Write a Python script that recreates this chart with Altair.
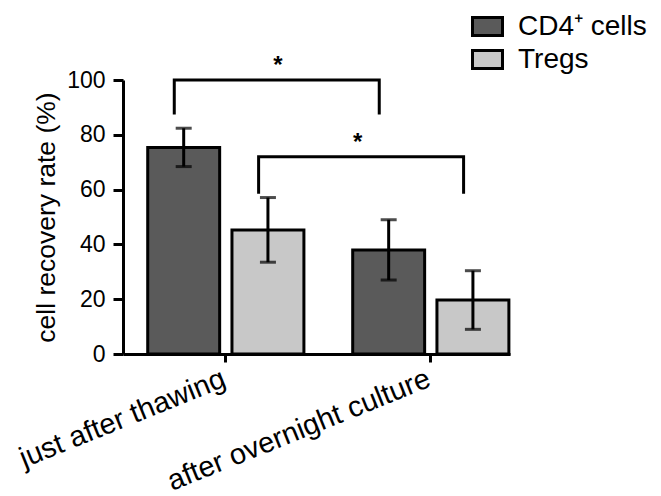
import altair as alt
import pandas as pd

FONT = "Liberation Sans"

conditions = ["just after thawing", "after overnight culture"]
cell_types = ["CD4\u207a cells", "Tregs"]
cd4_mean = [75.4, 38.0]
cd4_err = [7.0, 11.0]
treg_mean = [45.3, 19.7]
treg_err = [11.8, 10.7]
colors = ["#5a5a5a", "#c8c8c8"]

# significance brackets (same cell type, compared across conditions)
bracket_cell = ["CD4\u207a cells", "Tregs"]
bracket_low = [88, 59]
bracket_high = [100, 72]
star_labels = ["*", "*"]
star_y = [105, 77]

rows = []
for i, c in enumerate(conditions):
    rows.append({"condition": c, "cell": cell_types[0], "mean": cd4_mean[i],
                 "lo": cd4_mean[i] - cd4_err[i], "hi": cd4_mean[i] + cd4_err[i]})
    rows.append({"condition": c, "cell": cell_types[1], "mean": treg_mean[i],
                 "lo": treg_mean[i] - treg_err[i], "hi": treg_mean[i] + treg_err[i]})
bars_df = pd.DataFrame(rows)


def bracket_df(b):
    pts = [(conditions[0], bracket_low[b]), (conditions[0], bracket_high[b]),
           (conditions[1], bracket_high[b]), (conditions[1], bracket_low[b])]
    return pd.DataFrame([{"condition": c, "cell": bracket_cell[b], "val": v,
                          "ord": k} for k, (c, v) in enumerate(pts)])


star1 = pd.DataFrame([{"condition": conditions[0], "cell": cell_types[1],
                       "val": star_y[0], "label": star_labels[0]}])
star2 = pd.DataFrame([{"condition": conditions[1], "cell": cell_types[0],
                       "val": star_y[1], "label": star_labels[1]}])

YT = "cell recovery rate (%)"
xscale = alt.Scale(domain=conditions, paddingInner=0.238,
                   paddingOuter=0.063, align=0.957)
xenc = alt.X("condition:N", title=None, scale=xscale)
xoff = alt.XOffset("cell:N", scale=alt.Scale(domain=cell_types,
                                             paddingInner=0.146, paddingOuter=0))
yscale = alt.Scale(domain=[0, 100])

bars = alt.Chart(bars_df).mark_bar(stroke="black", strokeWidth=3).encode(
    x=xenc, xOffset=xoff,
    y=alt.Y("mean:Q", title=YT, scale=yscale),
    color=alt.Color("cell:N",
                    scale=alt.Scale(domain=cell_types, range=colors),
                    legend=alt.Legend(title=None, orient="none", legendX=348,
                                      legendY=-70, padding=0,
                                      symbolType="M-1,-0.6H1V0.6H-1Z",
                                      symbolSize=900, symbolStrokeColor="black",
                                      symbolStrokeWidth=3, symbolOpacity=1,
                                      labelFont=FONT, labelFontSize=28,
                                      labelColor="black", labelOffset=14,
                                      rowPadding=1, labelLimit=0)),
)

err = alt.Chart(bars_df).mark_rule(color="black", strokeWidth=3).encode(
    x=xenc, xOffset=xoff,
    y=alt.Y("lo:Q", title=YT, scale=yscale), y2="hi:Q")
cap_lo = alt.Chart(bars_df).mark_tick(color="black", size=16, thickness=3,
                                      orient="horizontal").encode(
    x=xenc, xOffset=xoff, y=alt.Y("lo:Q", title=YT, scale=yscale))
cap_hi = alt.Chart(bars_df).mark_tick(color="black", size=16, thickness=3,
                                      orient="horizontal").encode(
    x=xenc, xOffset=xoff, y=alt.Y("hi:Q", title=YT, scale=yscale))

# bracket ends sit a little left of the centre of each compared bar
bracket_band_pos = [0.17, 0.71]
bracket_layers = [
    alt.Chart(bracket_df(b)).mark_line(color="black", strokeWidth=3,
                                       strokeCap="square").encode(
        x=alt.X("condition:N", title=None, scale=xscale,
                bandPosition=bracket_band_pos[b]),
        y=alt.Y("val:Q", title=YT, scale=yscale),
        order="ord:Q")
    for b in range(len(bracket_cell))
]

s1 = alt.Chart(star1).mark_text(font=FONT, fontSize=24, fontWeight="bold",
                                dx=10, baseline="middle", color="black").encode(
    x=xenc, xOffset=xoff, y=alt.Y("val:Q", title=YT, scale=yscale),
    text="label:N")
s2 = alt.Chart(star2).mark_text(font=FONT, fontSize=24, fontWeight="bold",
                                dx=-31, baseline="middle", color="black").encode(
    x=xenc, xOffset=xoff, y=alt.Y("val:Q", title=YT, scale=yscale),
    text="label:N")

chart = alt.layer(bars, err, cap_lo, cap_hi, *bracket_layers, s1, s2).properties(
    width=387, height=274,
    autosize=alt.AutoSizeParams(type="none"),
    padding={"left": 123, "top": 80, "right": 151, "bottom": 142},
).configure_view(stroke=None).configure_axisY(
    grid=False, values=[0, 20, 40, 60, 80, 100], domainColor="black",
    domainWidth=3, tickColor="black", tickWidth=3, tickSize=10,
    labelFont=FONT, labelFontSize=23, labelColor="black", labelPadding=8,
    titleFont=FONT, titleFontSize=26.5, titleFontWeight="normal",
    titleColor="black", titleX=-77, titleY=137, titleAngle=-90,
    titleAlign="center", titleBaseline="middle",
).configure_axisX(
    grid=False, domainColor="black", domainWidth=3, tickColor="black",
    tickWidth=3, tickSize=8, labelFont=FONT, labelFontSize=29,
    labelColor="black", labelAngle=-22, labelAlign="right",
    labelBaseline="top", labelPadding=2, labelOffset=-7, labelLimit=0,
)

chart.save("out.html", embed_options={"renderer": "svg", "actions": False})
